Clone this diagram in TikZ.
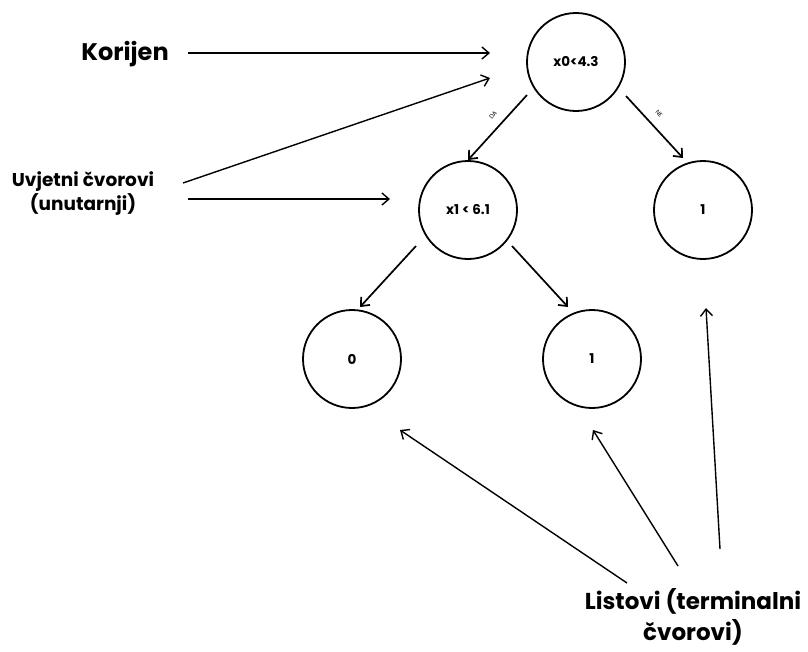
\documentclass[tikz,border=0pt]{standalone}
\usepackage{fontspec}
\setmainfont{Poppins}
\usetikzlibrary{arrows.meta}
\begin{document}
\begin{tikzpicture}[x=1pt,y=-1pt,
  tnode/.style={circle,draw,line width=1.8pt,minimum size=98pt,inner sep=0pt,font=\bfseries\fontsize{13.5}{15}\selectfont},
  lbl/.style={align=center,inner sep=0pt},
  edge/.style={line width=1.7pt,-{Straight Barb[length=7pt,width=12pt]}},
  ptr/.style={line width=1.4pt,-{Straight Barb[length=7pt,width=12pt]}},
  tiny/.style={font=\fontsize{6}{7}\selectfont,inner sep=0pt}]
\useasboundingbox (0,0) rectangle (808,651);
\fill[white] (0,0) rectangle (808,651);
\node[tnode] (r) at (576,62) {x0<4.3};
\node[tnode] (a) at (468,210) {x1 < 6.1};
\node[tnode] (b) at (703,210) {1};
\node[tnode] (c) at (352,359) {0};
\node[tnode] (d) at (592,359) {1};
% tree edges
\coordinate (ra1) at (527,95); \coordinate (ra2) at (468,160);
\coordinate (rb1) at (626,96); \coordinate (rb2) at (683,158);
\coordinate (ac1) at (416,246); \coordinate (ac2) at (360,307);
\coordinate (ad1) at (512,246); \coordinate (ad2) at (568,307);
\draw[edge] (ra1) -- (ra2);
\draw[edge] (rb1) -- (rb2);
\draw[edge] (ac1) -- (ac2);
\draw[edge] (ad1) -- (ad2);
\node[tiny,rotate=48] (da) at (493,115) {DA};
\node[tiny,rotate=-48] (ne) at (659,114) {NE};
% labels
\node[lbl,font=\bfseries\fontsize{24}{30}\selectfont] (k) at (125,54) {Korijen};
\node[lbl,font=\bfseries\fontsize{18.5}{24}\selectfont] (u) at (83,194) {Uvjetni čvorovi\\(unutarnji)};
\node[lbl,font=\bfseries\fontsize{23}{31}\selectfont] (l) at (693,617) {Listovi (terminalni\\čvorovi)};
\coordinate (k1) at (188,53); \coordinate (k2) at (490,53);
\coordinate (u1) at (183,183); \coordinate (u2) at (490,78);
\coordinate (u3) at (188,199); \coordinate (u4) at (390,199);
\coordinate (l1) at (627,583); \coordinate (l2) at (400,430);
\coordinate (l3) at (678,566); \coordinate (l4) at (593,430);
\coordinate (l5) at (720,549); \coordinate (l6) at (706,308);
\draw[ptr] (k1) -- (k2);
\draw[ptr] (u1) -- (u2);
\draw[ptr] (u3) -- (u4);
\draw[ptr] (l1) -- (l2);
\draw[ptr] (l3) -- (l4);
\draw[ptr] (l5) -- (l6);
\end{tikzpicture}
\end{document}
